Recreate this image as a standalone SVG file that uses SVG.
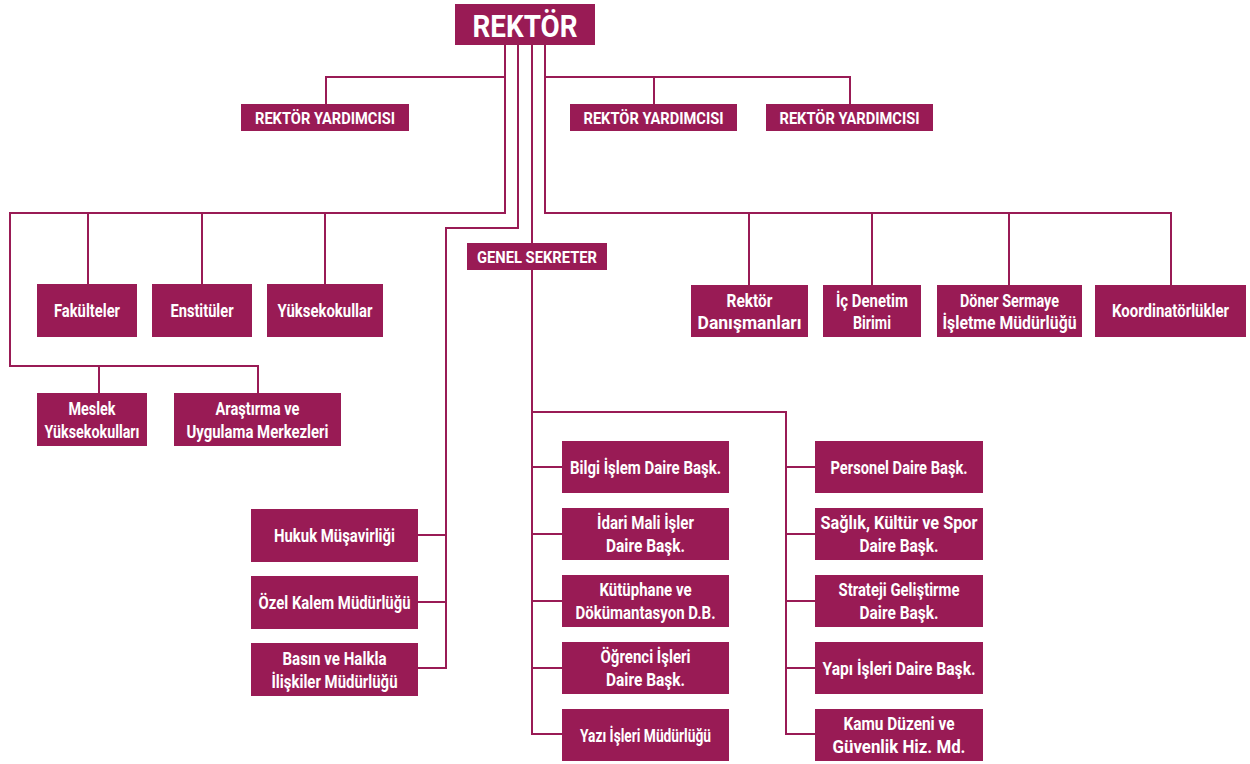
<svg xmlns="http://www.w3.org/2000/svg" width="1250" height="764" viewBox="0 0 1250 764">
<style>
.b{fill:#991B55}
.t{font-family:Roboto,"Liberation Sans",sans-serif;font-weight:700;font-size:18px;fill:#fff;text-anchor:middle}
.s{font-size:16px}
.c{fill:none;stroke:#991B55;stroke-width:2}
</style>
<rect width="1250" height="764" fill="#fff"/>
<g id="connectors" class="c">
<path d="M505,45 V213 H10 V366 H258 V393 M99,366 V393 M88,213 V284 M202,213 V284 M325,213 V284 M505,77 H326 V104"/>
<path d="M518,45 V228 H446 V668 H418 M446,535 H418 M446,602 H418"/>
<path d="M532,45 V734 H562 M532,467 H562 M532,534 H562 M532,601 H562 M532,668 H562 M532,412 H786 V734 H815 M786,467 H815 M786,534 H815 M786,601 H815 M786,668 H815"/>
<path d="M545,45 V213 H1171 V285 M545,77 H850 V104 M654,77 V104 M749,213 V285 M872,213 V285 M1009,213 V285"/>
</g>
<g id="rektor"><rect class="b" x="455" y="4" width="140" height="41"/><text class="t" x="525" y="37" style="font-size:31px" textLength="105" lengthAdjust="spacingAndGlyphs">REKTÖR</text></g>
<g id="ry1"><rect class="b" x="241" y="104" width="168" height="27"/><text class="t s" x="325" y="123.5" textLength="140" lengthAdjust="spacingAndGlyphs">REKTÖR YARDIMCISI</text></g>
<g id="ry2"><rect class="b" x="570" y="104" width="167" height="27"/><text class="t s" x="653.5" y="123.5" textLength="140" lengthAdjust="spacingAndGlyphs">REKTÖR YARDIMCISI</text></g>
<g id="ry3"><rect class="b" x="766" y="104" width="167" height="27"/><text class="t s" x="849.5" y="123.5" textLength="140" lengthAdjust="spacingAndGlyphs">REKTÖR YARDIMCISI</text></g>
<g id="genel"><rect class="b" x="467" y="243" width="140" height="27"/><text class="t s" x="537" y="262.5" textLength="120" lengthAdjust="spacingAndGlyphs">GENEL SEKRETER</text></g>
<g id="fakulteler"><rect class="b" x="37" y="284" width="100" height="53"/><text class="t" x="87" y="317" textLength="66" lengthAdjust="spacingAndGlyphs">Fakülteler</text></g>
<g id="enstituler"><rect class="b" x="152" y="284" width="100" height="53"/><text class="t" x="202" y="317" textLength="63" lengthAdjust="spacingAndGlyphs">Enstitüler</text></g>
<g id="yuksekokullar"><rect class="b" x="267" y="284" width="116" height="53"/><text class="t" x="325" y="317" textLength="95" lengthAdjust="spacingAndGlyphs">Yüksekokullar</text></g>
<g id="meslek"><rect class="b" x="37" y="393" width="110" height="53"/><text class="t" x="92" y="414.5" textLength="47" lengthAdjust="spacingAndGlyphs">Meslek</text><text class="t" x="92" y="438" textLength="95" lengthAdjust="spacingAndGlyphs">Yüksekokulları</text></g>
<g id="arastirma"><rect class="b" x="174" y="393" width="167" height="53"/><text class="t" x="257.5" y="414.5" textLength="84" lengthAdjust="spacingAndGlyphs">Araştırma ve</text><text class="t" x="257.5" y="438" textLength="142" lengthAdjust="spacingAndGlyphs">Uygulama Merkezleri</text></g>
<g id="danismanlar"><rect class="b" x="691" y="285" width="117" height="52"/><text class="t" x="749.5" y="306.5" textLength="46" lengthAdjust="spacingAndGlyphs">Rektör</text><text class="t" x="749.5" y="329" textLength="104" lengthAdjust="spacingAndGlyphs">Danışmanları</text></g>
<g id="icdenetim"><rect class="b" x="823" y="285" width="98" height="52"/><text class="t" x="872" y="306.5" textLength="72" lengthAdjust="spacingAndGlyphs">İç Denetim</text><text class="t" x="872" y="329" textLength="38" lengthAdjust="spacingAndGlyphs">Birimi</text></g>
<g id="doner"><rect class="b" x="937" y="285" width="145" height="52"/><text class="t" x="1009.5" y="306.5" textLength="99" lengthAdjust="spacingAndGlyphs">Döner Sermaye</text><text class="t" x="1009.5" y="329" textLength="134" lengthAdjust="spacingAndGlyphs">İşletme Müdürlüğü</text></g>
<g id="koordinatorlukler"><rect class="b" x="1095" y="285" width="151" height="52"/><text class="t" x="1170.5" y="317" textLength="117" lengthAdjust="spacingAndGlyphs">Koordinatörlükler</text></g>
<g id="hukuk"><rect class="b" x="251" y="509" width="167" height="53"/><text class="t" x="334.5" y="542" textLength="121" lengthAdjust="spacingAndGlyphs">Hukuk Müşavirliği</text></g>
<g id="ozelkalem"><rect class="b" x="251" y="576" width="167" height="53"/><text class="t" x="334.5" y="609" textLength="152" lengthAdjust="spacingAndGlyphs">Özel Kalem Müdürlüğü</text></g>
<g id="basin"><rect class="b" x="251" y="643" width="167" height="53"/><text class="t" x="334.5" y="665" textLength="104" lengthAdjust="spacingAndGlyphs">Basın ve Halkla</text><text class="t" x="334.5" y="688" textLength="126" lengthAdjust="spacingAndGlyphs">İlişkiler Müdürlüğü</text></g>
<g id="bilgiislem"><rect class="b" x="562" y="441" width="167" height="52"/><text class="t" x="645.5" y="473.5" textLength="151" lengthAdjust="spacingAndGlyphs">Bilgi İşlem Daire Başk.</text></g>
<g id="idarimali"><rect class="b" x="562" y="508" width="167" height="52"/><text class="t" x="645.5" y="528.5" textLength="97" lengthAdjust="spacingAndGlyphs">İdari Mali İşler</text><text class="t" x="645.5" y="552" textLength="79" lengthAdjust="spacingAndGlyphs">Daire Başk.</text></g>
<g id="kutuphane"><rect class="b" x="562" y="575" width="167" height="52"/><text class="t" x="645.5" y="595.5" textLength="92" lengthAdjust="spacingAndGlyphs">Kütüphane ve</text><text class="t" x="645.5" y="619" textLength="140" lengthAdjust="spacingAndGlyphs">Dökümantasyon D.B.</text></g>
<g id="ogrenci"><rect class="b" x="562" y="642" width="167" height="52"/><text class="t" x="645.5" y="662.5" textLength="90" lengthAdjust="spacingAndGlyphs">Öğrenci İşleri</text><text class="t" x="645.5" y="686" textLength="79" lengthAdjust="spacingAndGlyphs">Daire Başk.</text></g>
<g id="yaziisleri"><rect class="b" x="562" y="709" width="167" height="52"/><text class="t" x="645.5" y="741.5" textLength="131" lengthAdjust="spacingAndGlyphs">Yazı İşleri Müdürlüğü</text></g>
<g id="personel"><rect class="b" x="815" y="441" width="168" height="52"/><text class="t" x="899" y="473.5" textLength="137" lengthAdjust="spacingAndGlyphs">Personel Daire Başk.</text></g>
<g id="saglik"><rect class="b" x="815" y="508" width="168" height="52"/><text class="t" x="899" y="528.5" textLength="157" lengthAdjust="spacingAndGlyphs">Sağlık, Kültür ve Spor</text><text class="t" x="899" y="552" textLength="79" lengthAdjust="spacingAndGlyphs">Daire Başk.</text></g>
<g id="strateji"><rect class="b" x="815" y="575" width="168" height="52"/><text class="t" x="899" y="595.5" textLength="121" lengthAdjust="spacingAndGlyphs">Strateji Geliştirme</text><text class="t" x="899" y="619" textLength="79" lengthAdjust="spacingAndGlyphs">Daire Başk.</text></g>
<g id="yapiisleri"><rect class="b" x="815" y="642" width="168" height="52"/><text class="t" x="899" y="674.5" textLength="153" lengthAdjust="spacingAndGlyphs">Yapı İşleri Daire Başk.</text></g>
<g id="kamuduzeni"><rect class="b" x="815" y="709" width="168" height="52"/><text class="t" x="899" y="729.5" textLength="111" lengthAdjust="spacingAndGlyphs">Kamu Düzeni ve</text><text class="t" x="899" y="753" textLength="133" lengthAdjust="spacingAndGlyphs">Güvenlik Hiz. Md.</text></g>
</svg>
